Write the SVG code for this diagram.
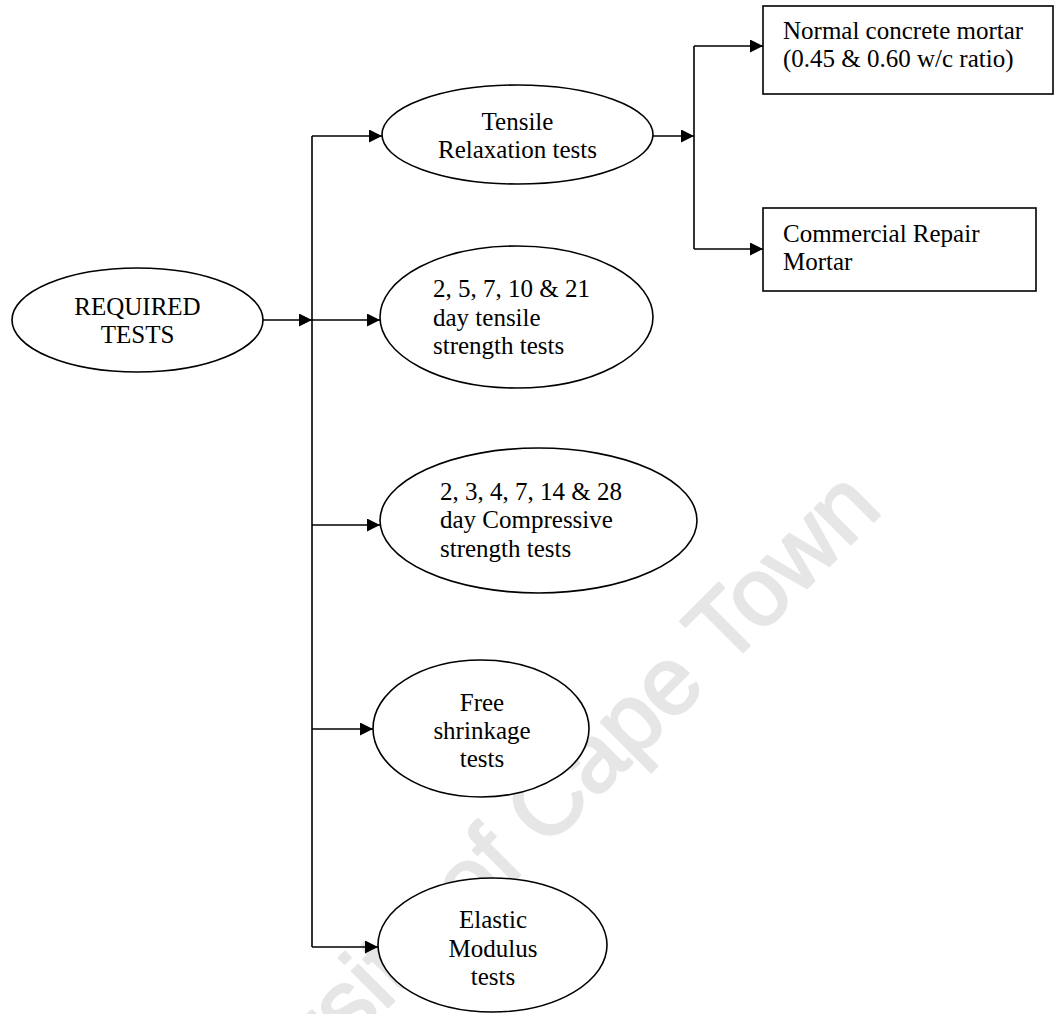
<svg xmlns="http://www.w3.org/2000/svg" width="1055" height="1014" viewBox="0 0 1055 1014">
<style>
.n{fill:#fff;stroke:#000;stroke-width:1.6}
.t{font-family:"Liberation Serif","Times New Roman",serif;font-size:25px;fill:#000}
.c{text-anchor:middle}
.e{fill:none;stroke:#000;stroke-width:1.6}
.wm{font-family:"Liberation Sans",Arial,sans-serif;font-size:96px;fill:#e6e6e6;stroke:#e6e6e6;stroke-width:2.5;stroke-linejoin:round;text-anchor:end}
</style>
<defs>
<marker id="ah" viewBox="0 0 13 13" refX="13" refY="6.5" markerWidth="13" markerHeight="13" markerUnits="userSpaceOnUse" orient="auto">
<path d="M0,0 L13,6.5 L0,13 Z" fill="#000"/>
</marker>
</defs>
<rect width="1055" height="1014" fill="#fff"/>
<text class="wm" transform="translate(884,511) rotate(-45)">University of Cape Town</text>
<g id="connectors">
<path class="e" d="M263,320 H312" marker-end="url(#ah)"/>
<path class="e" d="M312,136 V947"/>
<path class="e" d="M312,136 H382" marker-end="url(#ah)"/>
<path class="e" d="M312,320 H380" marker-end="url(#ah)"/>
<path class="e" d="M312,525 H380" marker-end="url(#ah)"/>
<path class="e" d="M312,729 H373" marker-end="url(#ah)"/>
<path class="e" d="M312,947 H378" marker-end="url(#ah)"/>
<path class="e" d="M653,136 H694" marker-end="url(#ah)"/>
<path class="e" d="M694,46 V249"/>
<path class="e" d="M694,46 H763" marker-end="url(#ah)"/>
<path class="e" d="M694,249 H763" marker-end="url(#ah)"/>
</g>
<g id="required">
<ellipse class="n" cx="137.5" cy="320" rx="125.5" ry="52"/>
<text class="t c" x="137.5" y="315">REQUIRED</text>
<text class="t c" x="137.5" y="343">TESTS</text>
</g>
<g id="tensile-relaxation">
<ellipse class="n" cx="517.5" cy="134.5" rx="135.5" ry="49.5"/>
<text class="t c" x="517.5" y="130">Tensile</text>
<text class="t c" x="517.5" y="158">Relaxation tests</text>
</g>
<g id="normal-mortar">
<rect class="n" x="763" y="6" width="290" height="88"/>
<text class="t" x="783" y="39">Normal concrete mortar</text>
<text class="t" x="783" y="67">(0.45 &amp; 0.60 w/c ratio)</text>
</g>
<g id="commercial-mortar">
<rect class="n" x="763" y="208" width="273" height="83"/>
<text class="t" x="783" y="242">Commercial Repair</text>
<text class="t" x="783" y="270">Mortar</text>
</g>
<g id="tensile-strength">
<ellipse class="n" cx="516.5" cy="317" rx="136.5" ry="71"/>
<text class="t" x="433" y="297">2, 5, 7, 10 &amp; 21</text>
<text class="t" x="433" y="326">day tensile</text>
<text class="t" x="433" y="354">strength tests</text>
</g>
<g id="compressive-strength">
<ellipse class="n" cx="538.5" cy="520.5" rx="158.5" ry="72.5"/>
<text class="t" x="440" y="500">2, 3, 4, 7, 14 &amp; 28</text>
<text class="t" x="440" y="528">day Compressive</text>
<text class="t" x="440" y="557">strength tests</text>
</g>
<g id="free-shrinkage">
<ellipse class="n" cx="481" cy="728.5" rx="108" ry="68.5"/>
<text class="t c" x="482" y="711">Free</text>
<text class="t c" x="482" y="739">shrinkage</text>
<text class="t c" x="482" y="767">tests</text>
</g>
<g id="elastic-modulus">
<ellipse class="n" cx="492.5" cy="945" rx="114.5" ry="67"/>
<text class="t c" x="493" y="928">Elastic</text>
<text class="t c" x="493" y="957">Modulus</text>
<text class="t c" x="493" y="985">tests</text>
</g>
</svg>
